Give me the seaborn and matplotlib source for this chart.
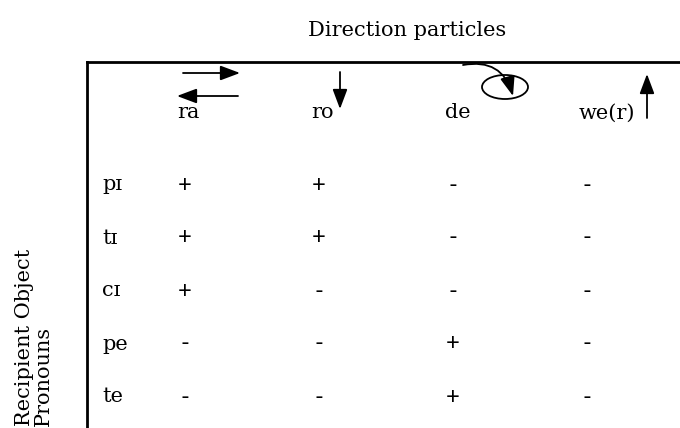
import matplotlib
matplotlib.use("Agg")
import matplotlib.pyplot as plt
from matplotlib.colors import ListedColormap
from matplotlib.patches import Ellipse
import seaborn as sns
import pandas as pd
import numpy as np

# table content
particles = ["ra", "ro", "de", "we(r)"]
pronouns = ["p\u026a", "t\u026a", "c\u026a", "pe", "te"]
marks = [["+", "+", "-", "-"],
         ["+", "+", "-", "-"],
         ["+", "-", "-", "-"],
         ["-", "-", "+", "-"],
         ["-", "-", "+", "-"]]
title = "Direction particles"
side_label = "Recipient Object\nPronouns"

sns.set_theme(style="white")
serif = ["DejaVu Serif"]
sans = ["Lato", "DejaVu Sans"]
fs = 15

W, H = 680, 428
fig = plt.figure(figsize=(W / 100, H / 100), dpi=100)

# table cells (pixel layout)
left, top, cw, rh = 118, 158.5, 134, 53
ax = fig.add_axes([left / W, 1 - (top + rh * len(pronouns)) / H,
                   cw * len(particles) / W, rh * len(pronouns) / H])
df = pd.DataFrame(marks, index=pronouns, columns=particles)
num = (df == "+").astype(int)
sns.heatmap(num, annot=df.values, fmt="", cmap=ListedColormap(["white", "white"]),
            cbar=False, ax=ax, linewidths=0,
            annot_kws=dict(fontsize=17, family=sans, color="black"))
ax.set_xticks([])
ax.set_yticks([])
for s in ax.spines.values():
    s.set_visible(False)

# row labels
for j, p in enumerate(pronouns):
    ax.text(-(left - 102) / cw, j + 0.5, p, ha="left", va="center",
            fontsize=fs, family=serif, color="black", clip_on=False)

# header labels, left-aligned a little before the column centre
for i, p in enumerate(particles):
    ax.text(i + 0.5 - 8 / cw, -(top - 113) / rh, p, ha="left", va="center",
            fontsize=fs, family=serif, color="black", clip_on=False)

# overlay in pixel coordinates for frame, titles and arrow glyphs
ov = fig.add_axes([0, 0, 1, 1], facecolor="none")
ov.set_xlim(0, W)
ov.set_ylim(H, 0)
ov.axis("off")
ov.plot([87, W], [62, 62], color="black", lw=2, solid_capstyle="projecting")
ov.plot([87, 87], [62, H], color="black", lw=2, solid_capstyle="projecting")
ov.text(407, 30, title, ha="center", va="center", fontsize=fs, family=serif, color="black")
ov.text(34, 426, side_label, rotation=90, rotation_mode="anchor", ha="left",
        va="center", multialignment="left", fontsize=fs, family=serif, color="black",
        linespacing=1.05)

arw = dict(arrowstyle="-|>,head_length=0.8,head_width=0.3", color="black", lw=1.3,
           shrinkA=0, shrinkB=0, mutation_scale=15)
ov.annotate("", xy=(240, 73), xytext=(183, 73), arrowprops=arw)
ov.annotate("", xy=(177, 96), xytext=(238, 96), arrowprops=arw)
ov.annotate("", xy=(340, 109), xytext=(340, 72), arrowprops=arw)
ov.annotate("", xy=(647, 74), xytext=(647, 118), arrowprops=arw)
ov.add_patch(Ellipse((505, 87), 46, 24, fill=False, edgecolor="black", lw=1.3))
ov.annotate("", xy=(513, 96), xytext=(463, 65),
            arrowprops=dict(arw, connectionstyle="arc3,rad=-0.45"))

fig.savefig("out.png", dpi=100)
